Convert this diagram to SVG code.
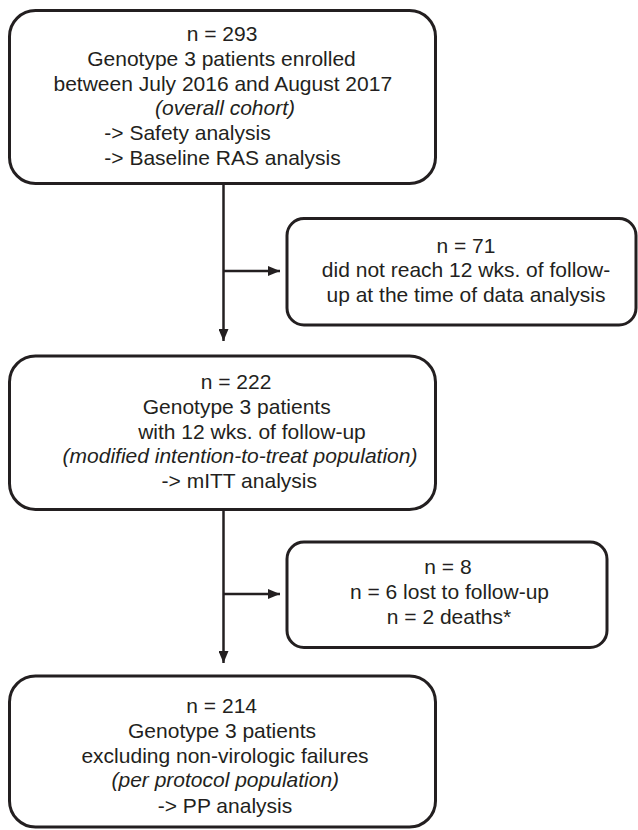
<svg xmlns="http://www.w3.org/2000/svg" width="638" height="830" viewBox="0 0 638 830">
<style>
.box{fill:#ffffff;stroke:#231f20;stroke-width:3}
.t{font-family:"Liberation Sans",Arial,Helvetica,sans-serif;font-size:21px;fill:#231f20;text-anchor:middle}
.i{font-style:italic}
.c{stroke:#231f20;stroke-width:2.5;fill:none}
</style>
<defs>
<marker id="ah" viewBox="0 0 12 10" refX="12" refY="5" markerWidth="12" markerHeight="10" markerUnits="userSpaceOnUse" orient="auto">
<path d="M0,0 L12,5 L0,10 Z" fill="#231f20"/>
</marker>
</defs>
<rect width="638" height="830" fill="#ffffff"/>
<g id="connectors">
<line class="c" x1="223.5" y1="184" x2="223.5" y2="341" marker-end="url(#ah)"/>
<line class="c" x1="223.5" y1="271" x2="280" y2="271" marker-end="url(#ah)"/>
<line class="c" x1="223.5" y1="510" x2="223.5" y2="663" marker-end="url(#ah)"/>
<line class="c" x1="223.5" y1="594" x2="280" y2="594" marker-end="url(#ah)"/>
</g>
<g id="node-overall">
<rect class="box" x="9.5" y="10.5" width="426" height="173" rx="26" ry="26"/>
<text class="t" x="222" y="41">n = 293</text>
<text class="t" x="221.5" y="66">Genotype 3 patients enrolled</text>
<text class="t" x="222.8" y="90.7">between July 2016 and August 2017</text>
<text class="t i" x="225" y="115">(overall cohort)</text>
<text class="t" x="104.3" y="140" style="text-anchor:start">-&gt; Safety analysis</text>
<text class="t" x="104.3" y="165" style="text-anchor:start">-&gt; Baseline RAS analysis</text>
</g>
<g id="node-excluded71">
<rect class="box" x="287" y="218.5" width="349" height="106.5" rx="17" ry="17"/>
<text class="t" x="466" y="252.7">n = 71</text>
<text class="t" x="466" y="276.7">did not reach 12 wks. of follow-</text>
<text class="t" x="466" y="301.5">up at the time of data analysis</text>
</g>
<g id="node-mitt">
<rect class="box" x="9.5" y="356" width="426" height="153.5" rx="26" ry="26"/>
<text class="t" x="236" y="389">n = 222</text>
<text class="t" x="236.7" y="414">Genotype 3 patients</text>
<text class="t" x="252" y="439">with 12 wks. of follow-up</text>
<text class="t i" x="240" y="463.3">(modified intention-to-treat population)</text>
<text class="t" x="239.3" y="488.3">-&gt; mITT analysis</text>
</g>
<g id="node-excluded8">
<rect class="box" x="287" y="542" width="320" height="105.5" rx="17" ry="17"/>
<text class="t" x="448" y="574">n = 8</text>
<text class="t" x="449.5" y="599.3">n = 6 lost to follow-up</text>
<text class="t" x="449" y="624">n = 2 deaths*</text>
</g>
<g id="node-pp">
<rect class="box" x="9.5" y="676" width="426" height="151" rx="26" ry="26"/>
<text class="t" x="221.7" y="712.7">n = 214</text>
<text class="t" x="222" y="737.7">Genotype 3 patients</text>
<text class="t" x="225" y="762.7">excluding non-virologic failures</text>
<text class="t i" x="225.3" y="786.7">(per protocol population)</text>
<text class="t" x="225" y="812.7">-&gt; PP analysis</text>
</g>
</svg>
